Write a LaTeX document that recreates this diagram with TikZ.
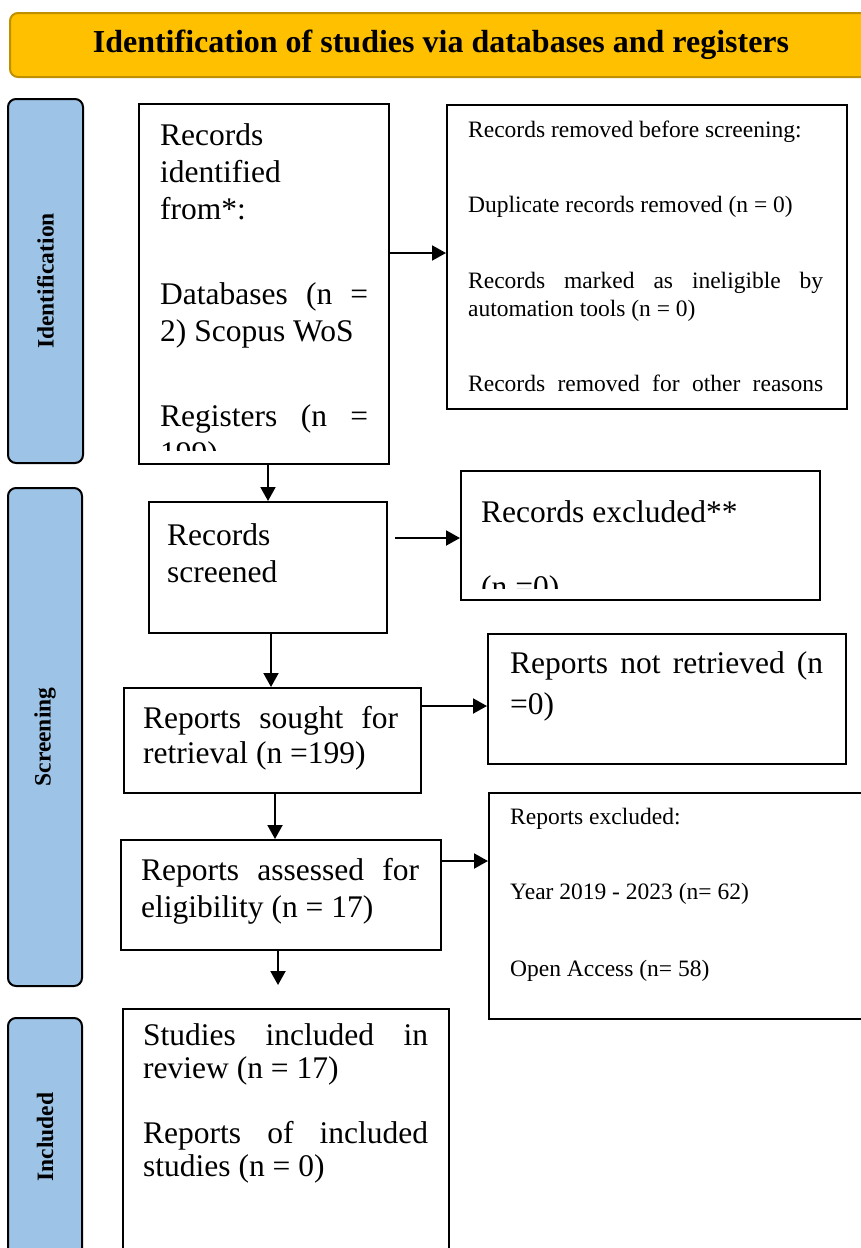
\documentclass[tikz,border=0pt]{standalone}
\usepackage{fontspec}
\setmainfont{Liberation Serif}
\usetikzlibrary{arrows.meta,positioning,calc}

\definecolor{titlegold}{HTML}{FFC000}
\definecolor{titleedge}{HTML}{BF9000}
\definecolor{stageblue}{HTML}{9DC3E6}

% stretch one line of a box to its full width (justified line)
\newcommand{\spreadline}[2]{\makebox[#1pt][s]{#2}}

\tikzset{
  box/.style={draw, line width=2pt, inner sep=0pt, anchor=north west},
  stage/.style={draw, line width=2pt, rounded corners=8pt, fill=stageblue,
                font=\fontsize{23.5}{28}\selectfont\bfseries},
  flow/.style={-{Triangle[length=14pt,width=15pt]}, line width=2pt},
  txt/.style={anchor=north west, inner sep=0pt, align=left,
              font=\fontsize{31.5}{37}\selectfont},
  small/.style={txt, font=\fontsize{23.5}{28}\selectfont},
}

\begin{document}
\begin{tikzpicture}[x=1pt,y=-1pt]
     \useasboundingbox (0,0) rectangle (860,1248);
      %%%%%%%%%%%%%%%%%%%%%%%%%%%%%%%%%%%%%%%%%%%%%%
      %%% Heading and the three stage bars
      %%%%%%%%%%%%%%%%%%%%%%%%%%%%%%%%%%%%%%%%%%%%%
     \node[draw=titleedge, line width=2pt, rounded corners=8pt, fill=titlegold,
           minimum width=862pt, minimum height=64pt,
           font=\fontsize{32}{38}\selectfont\bfseries] (heading) at (441,45)
           {Identification of studies via databases and registers};

     \node[stage, rotate=90, minimum width=364pt, minimum height=75pt] (idbar) at (45.5,281) {Identification};
     \node[stage, rotate=90, minimum width=498pt, minimum height=74pt] (scrbar) at (45,737) {Screening};
     \node[stage, rotate=90, minimum width=238pt, minimum height=74pt] (incbar) at (45,1137) {Included};

      %%%%%%%%%%%%%%%%%%%%%%%%%%%%%%%%%%%%%%%%%%%%%%
      %%% Boxes of the flow (left column, then right column)
      %%%%%%%%%%%%%%%%%%%%%%%%%%%%%%%%%%%%%%%%%%%%%
     \node[box, minimum width=250pt, minimum height=360pt] (ident) at (138,103) {};
     \node[box, minimum width=400pt, minimum height=304pt] (removed) at (446,104) {};
     \node[box, minimum width=238pt, minimum height=131pt] (screened) at (148,501) {};
     \node[box, minimum width=359pt, minimum height=129pt] (excluded) at (460,470) {};
     \node[box, minimum width=297pt, minimum height=105pt] (sought) at (123,687) {};
     \node[box, minimum width=358pt, minimum height=130pt] (notretr) at (487,633) {};
     \node[box, minimum width=320pt, minimum height=110pt] (assessed) at (120,839) {};
     \node[box, minimum width=400pt, minimum height=226pt] (repexcl) at (488,792) {};
     \node[box, minimum width=326pt, minimum height=260pt] (included) at (122,1008) {};

     % Texts of the boxes; two of them are cut off at the bottom
     \begin{scope}
       \clip (138,103) rectangle (388,450);
       \node[txt] (identtxt) at (160,123) {Records\\ identified\\ from*:\\[48pt]
             \spreadline{208}{Databases (n =}\\ 2) Scopus WoS\\[48pt]
             \spreadline{208}{Registers (n =}\\ 199)};
     \end{scope}
     \node[small] (removedtxt) at (468,121) {Records removed before screening:\\[47pt]
           Duplicate records removed (n = 0)\\[48pt]
           \spreadline{355}{Records marked as ineligible by}\\ automation tools (n = 0)\\[47pt]
           \spreadline{355}{Records removed for other reasons}};
     \node[txt] (screenedtxt) at (167,523) {Records\\ screened};
     \begin{scope}
       \clip (460,470) rectangle (819,588);
       \node[txt] (excludedtxt) at (481,500) {Records excluded**\\[38pt] (n =0)};
     \end{scope}
     \node[txt] (soughttxt) at (143,706) {\spreadline{255}{Reports sought for}\\[-2pt] retrieval (n =199)};
     \node[txt] (notretrtxt) at (510,651) {\spreadline{313}{Reports not retrieved (n}\\[4pt] =0)};
     \node[txt] (assessedtxt) at (141,858) {\spreadline{278}{Reports assessed for}\\ eligibility (n = 17)};
     \node[small] (repexcltxt) at (510,808) {Reports excluded:\\[47pt]
           Year 2019 - 2023 (n= 62)\\[49pt] Open Access (n= 58)};
     \node[txt, font=\fontsize{31.5}{33}\selectfont] (includedtxt) at (143,1023)
           {\spreadline{285}{Studies included in}\\ review (n = 17)\\[32pt]
            \spreadline{285}{Reports of included}\\ studies (n = 0)};

      %%%%%%%%%%%%%%%%%%%%%%%%%%%%%%%%%%%%%%%%%%%%%%
      %%% Arrows
      %%%%%%%%%%%%%%%%%%%%%%%%%%%%%%%%%%%%%%%%%%%%%
     \draw[flow] (ident.east |- 0,253) -- (removed.west |- 0,253);
     \draw[flow] (ident.south -| 268,0) -- (screened.north -| 268,0);
     \draw[flow, shorten <=7pt] (screened.east |- 0,538) -- (excluded.west |- 0,538);
     \draw[flow] (screened.south -| 271,0) -- (sought.north -| 271,0);
     \draw[flow] (sought.east |- 0,706) -- (notretr.west |- 0,706);
     \draw[flow] (sought.south -| 275,0) -- (assessed.north -| 275,0);
     \draw[flow] (assessed.east |- 0,861) -- (repexcl.west |- 0,861);
     % last arrow stops short of the included box
     \coordinate (inclend) at (278,985);
     \draw[flow] (assessed.south -| inclend) -- (inclend);
\end{tikzpicture}
\end{document}
